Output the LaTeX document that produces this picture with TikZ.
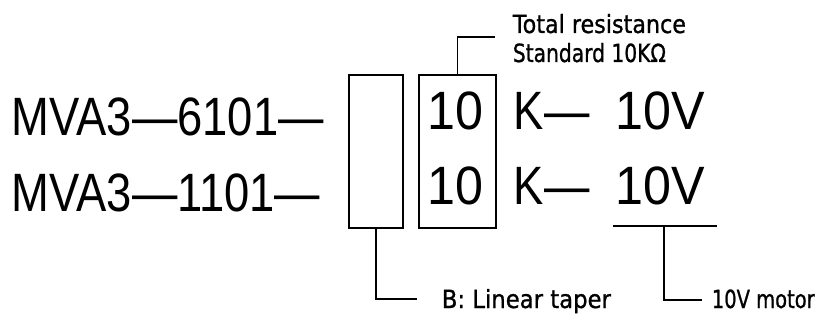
\documentclass[tikz,border=0pt]{standalone}
\usepackage{fontspec}
\setmainfont{Liberation Sans}
\newfontfamily\smallfont[FakeBold=1]{DejaVu Sans}
\begin{document}
\begin{tikzpicture}[x=1pt,y=-1pt,
  line width=1.7pt,
  big/.style={anchor=base west,inner sep=0pt,font=\fontsize{54}{60}\selectfont},
  small/.style={anchor=base west,inner sep=0pt,font=\smallfont\fontsize{25}{28}\selectfont},
  codebox/.style={draw,minimum height=153pt,inner sep=0pt}]
\useasboundingbox (0,0) rectangle (840,320);
% code boxes
\node[codebox,minimum width=54pt] (bbox) at (376,151.5) {};
\node[codebox,minimum width=77pt] (tbox) at (457.5,151.5) {};
% big text
\node[big] (mva1) at (11,136) {\scalebox{0.84}[1]{MVA3—6101—}};
\node[big] (mva2) at (11,212) {\scalebox{0.84}[1]{MVA3—1101—}};
\node[big] (ten1) at (426.5,130) {\scalebox{0.93}[1]{10}};
\node[big] (ten2) at (426.5,205) {\scalebox{0.93}[1]{10}};
\node[big] (k1) at (513,130) {\scalebox{0.84}[1]{K—}};
\node[big] (k2) at (513,205) {\scalebox{0.84}[1]{K—}};
\node[big] (v1) at (614.5,130) {\scalebox{0.93}[1]{10V}};
\node[big] (v2) at (614.5,205) {\scalebox{0.93}[1]{10V}};
% small labels
\node[small] (tot1) at (512,33) {\scalebox{0.89}[1]{Total resistance}};
\node[small] (tot2) at (512,62) {\scalebox{0.81}[1]{Standard 10KΩ}};
\node[small] (taper) at (441,308) {\scalebox{0.91}[1]{B: Linear taper}};
\node[small] (motor) at (711,308) {\scalebox{0.78}[1]{10V motor}};
% leader coordinates
\coordinate (totend) at (495,37);
\coordinate (taperend) at (417,299);
\coordinate (ulA) at (613,226);
\coordinate (ulB) at (717,226);
\coordinate (ulM) at (664,226);
\coordinate (motorend) at (702,300);
% connectors
\draw (tbox.north) |- (totend);
\draw (bbox.south) |- (taperend);
\draw (ulA) -- (ulB);
\draw (ulM) |- (motorend);
\end{tikzpicture}
\end{document}
